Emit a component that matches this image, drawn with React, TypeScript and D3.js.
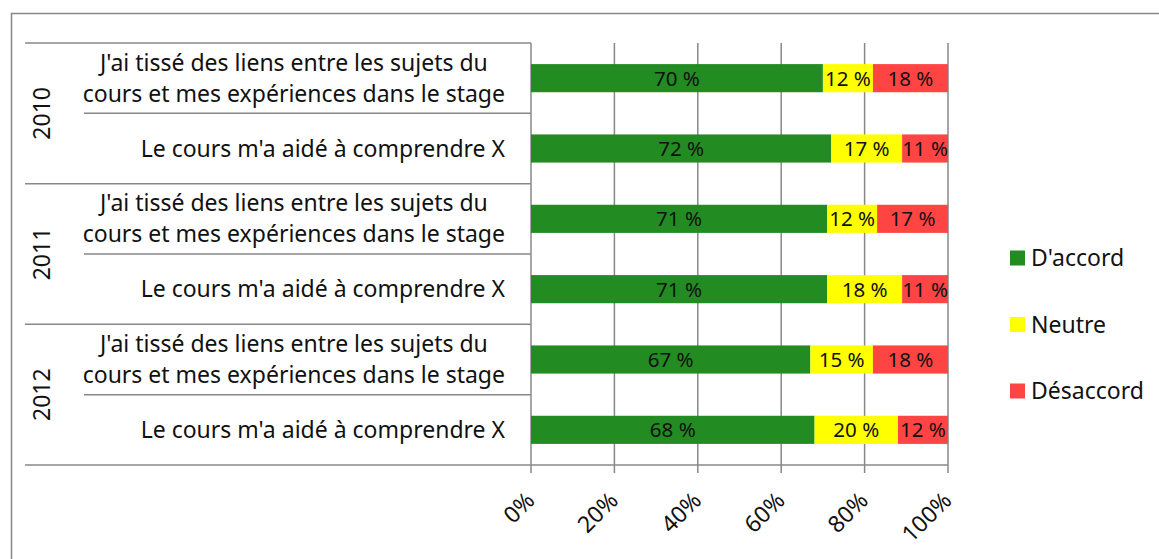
import React, { useEffect, useRef } from "react";
import * as d3 from "d3";

const years = ["2010", "2011", "2012"];
const questions = [
  ["J'ai tissé des liens entre les sujets du", "cours et mes expériences dans le stage"],
  ["Le cours m'a aidé à comprendre X"],
];
const series = ["D'accord", "Neutre", "Désaccord"];
const colors = ["#228B22", "#FFFF00", "#FF4444"];
// rows in order: 2010 q1, 2010 q2, 2011 q1, 2011 q2, 2012 q1, 2012 q2
const accord = [70, 72, 71, 71, 67, 68];
const neutre = [12, 17, 12, 18, 15, 20];
const desaccord = [18, 11, 17, 11, 18, 12];
const ticks = [0, 20, 40, 60, 80, 100];

const FONT = "'Noto Sans', sans-serif";
const FS = 23;

export default function App() {
  const ref = useRef<SVGSVGElement>(null);

  useEffect(() => {
    const svg = d3.select(ref.current);
    svg.selectAll("*").remove();

    const rows = [];
    years.forEach((yr, gi) => {
      questions.forEach((q, qi) => {
        const i = gi * questions.length + qi;
        rows.push({
          id: yr + "-" + qi,
          year: yr,
          lines: q,
          "D'accord": accord[i],
          Neutre: neutre[i],
          "Désaccord": desaccord[i],
        });
      });
    });

    const x = d3.scaleLinear().domain([0, 100]).range([531, 948]);
    const y = d3
      .scaleBand()
      .domain(rows.map(d => d.id))
      .range([43, 465])
      .paddingInner(0.6)
      .paddingOuter(0.3);
    const step = y.step();
    const color = d3.scaleOrdinal().domain(series).range(colors);

    // outer border
    svg
      .append("rect")
      .attr("x", 11.5)
      .attr("y", 13.5)
      .attr("width", 1160)
      .attr("height", 600)
      .attr("fill", "white")
      .attr("stroke", "#888")
      .attr("stroke-width", 1.5);

    // gridlines
    svg
      .append("g")
      .selectAll("line")
      .data(ticks)
      .join("line")
      .attr("x1", d => x(d))
      .attr("x2", d => x(d))
      .attr("y1", 43)
      .attr("y2", 473)
      .attr("stroke", "#888")
      .attr("stroke-width", 1.5);

    // category separators
    const sep = svg.append("g").attr("stroke", "#888").attr("stroke-width", 1.5);
    rows.forEach((d, i) => {
      const top = y(d.id) - (step - y.bandwidth()) / 2;
      sep
        .append("line")
        .attr("x1", i % questions.length === 0 ? 25 : 84)
        .attr("x2", x(0))
        .attr("y1", top)
        .attr("y2", top);
    });
    sep
      .append("line")
      .attr("x1", 25)
      .attr("x2", x(100))
      .attr("y1", 465)
      .attr("y2", 465);

    // bars
    const stack = d3.stack().keys(series)(rows);
    svg
      .append("g")
      .selectAll("g")
      .data(stack)
      .join("g")
      .attr("fill", d => color(d.key))
      .selectAll("rect")
      .data(d => d)
      .join("rect")
      .attr("x", d => x(d[0]))
      .attr("width", d => x(d[1]) - x(d[0]))
      .attr("y", d => y(d.data.id))
      .attr("height", y.bandwidth());

    // data labels
    svg
      .append("g")
      .attr("font-family", FONT)
      .attr("font-size", 20.5)
      .attr("fill", "#111")
      .attr("text-anchor", "middle")
      .selectAll("g")
      .data(stack)
      .join("g")
      .selectAll("text")
      .data(d => d)
      .join("text")
      .attr("x", d => (x(d[0]) + x(d[1])) / 2)
      .attr("y", d => y(d.data.id) + y.bandwidth() / 2)
      .attr("dy", "0.36em")
      .text(d => d[1] - d[0] + " %");

    // category labels
    const lab = svg
      .append("g")
      .attr("font-family", FONT)
      .attr("font-size", FS)
      .attr("fill", "#111");
    rows.forEach(d => {
      const cy = y(d.id) + y.bandwidth() / 2;
      const g = lab.append("g");
      const texts = d.lines.map((l, li) =>
        g
          .append("text")
          .attr("y", cy + (li - (d.lines.length - 1) / 2) * 31)
          .attr("dy", "0.35em")
          .attr("text-anchor", "middle")
          .text(l)
      );
      const w = Math.max(...texts.map(t => (t.node() as SVGTextElement).getComputedTextLength()));
      texts.forEach(t => t.attr("x", 505 - w / 2));
    });

    // year labels
    svg
      .append("g")
      .attr("font-family", FONT)
      .attr("font-size", FS)
      .attr("fill", "#111")
      .selectAll("text")
      .data(years)
      .join("text")
      .attr("text-anchor", "middle")
      .attr("dy", "0.35em")
      .attr("transform", d => {
        const top = y(d + "-0") - (step - y.bandwidth()) / 2;
        const cy = top + (step * questions.length) / 2;
        return `translate(42,${cy}) rotate(-90)`;
      })
      .text(d => d);

    // x tick labels
    svg
      .append("g")
      .attr("font-family", FONT)
      .attr("font-size", FS)
      .attr("fill", "#111")
      .selectAll("text")
      .data(ticks)
      .join("text")
      .attr("text-anchor", "end")
      .attr("transform", d => `translate(${x(d) + 5},${502}) rotate(-45)`)
      .text(d => d + "%");

    // legend
    const lg = svg
      .append("g")
      .attr("font-family", FONT)
      .attr("font-size", FS)
      .attr("fill", "#111")
      .selectAll("g")
      .data(series)
      .join("g")
      .attr("transform", (d, i) => `translate(1010,${258 + i * 66.5})`);
    lg.append("rect")
      .attr("y", -7.5)
      .attr("width", 15)
      .attr("height", 15)
      .attr("fill", d => color(d));
    lg.append("text")
      .attr("x", 21)
      .attr("dy", "0.35em")
      .text(d => d);
  }, []);

  return (
    <svg
      ref={ref}
      width={1159}
      height={559}
      style={{ position: "absolute", left: 0, top: 0, background: "white" }}
    />
  );
}
